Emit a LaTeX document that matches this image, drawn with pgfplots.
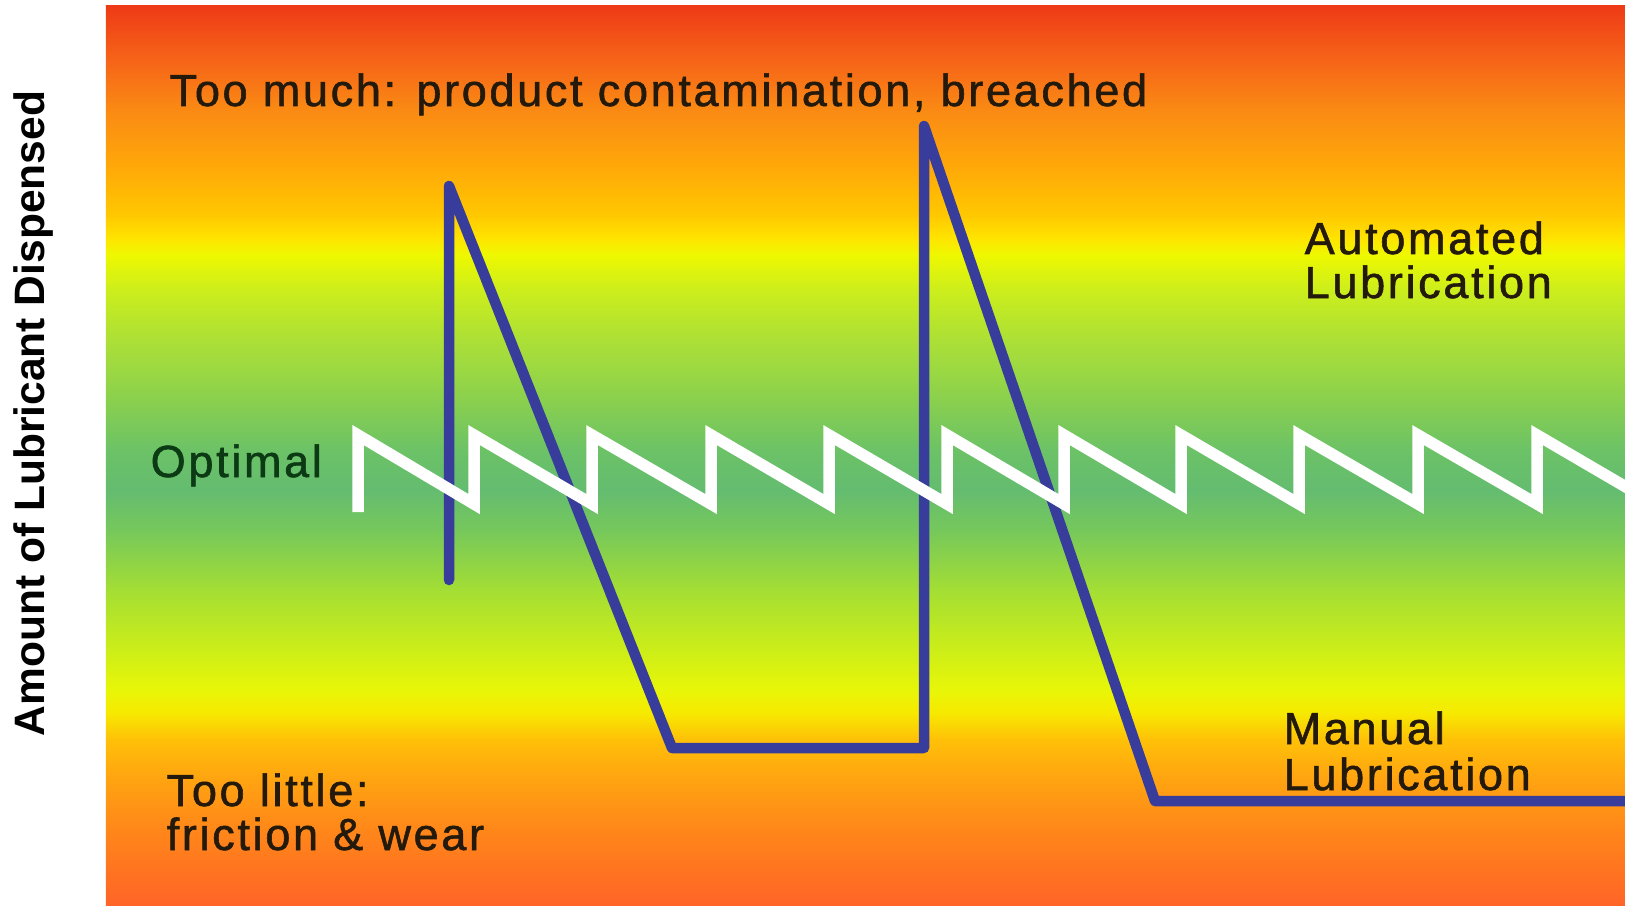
\documentclass[border=0pt]{standalone}
\usepackage{pgfplots}
\pgfplotsset{compat=1.18}
\usepackage{fontspec}
\setmainfont{Liberation Sans}
\newfontfamily\annfont[LetterSpace=6, FakeBold=1.3]{Liberation Sans}

\definecolor{s01}{HTML}{FF6428}
\definecolor{s02}{HTML}{FF7420}
\definecolor{s03}{HTML}{FF8C18}
\definecolor{s04}{HTML}{FFA610}
\definecolor{s05}{HTML}{FFC008}
\definecolor{s06}{HTML}{F6EA00}
\definecolor{s07}{HTML}{E8F608}
\definecolor{s08}{HTML}{CCEE18}
\definecolor{s09}{HTML}{A4DE34}
\definecolor{s10}{HTML}{76C85C}
\definecolor{s11}{HTML}{64BC70}
\definecolor{s12}{HTML}{6CC266}
\definecolor{s13}{HTML}{8AD04E}
\definecolor{s14}{HTML}{ACE036}
\definecolor{s15}{HTML}{CCEE1C}
\definecolor{s16}{HTML}{EEF800}
\definecolor{s17}{HTML}{FFE400}
\definecolor{s18}{HTML}{FFC800}
\definecolor{s19}{HTML}{FFAA08}
\definecolor{s20}{HTML}{FA8A14}
\definecolor{s21}{HTML}{F66418}
\definecolor{s22}{HTML}{EE3A16}
\definecolor{manblue}{HTML}{383C9A}
\definecolor{txtdark}{HTML}{241A0C}
\definecolor{txtgreen}{HTML}{0C3A14}

\pgfdeclareverticalshading{lub}{100bp}{%
color(0bp)=(s01); color(25bp)=(s01); color(26.95bp)=(s02); color(29.73bp)=(s03);
color(32.23bp)=(s04); color(34.18bp)=(s05); color(35.73bp)=(s06); color(36.96bp)=(s07);
color(39.18bp)=(s08); color(42.52bp)=(s09); color(45.86bp)=(s10); color(48.08bp)=(s11);
color(50.31bp)=(s12); color(53.09bp)=(s13); color(56.43bp)=(s14); color(59.21bp)=(s15);
color(61.15bp)=(s16); color(62.10bp)=(s17); color(63.37bp)=(s18); color(65.88bp)=(s19);
color(69.22bp)=(s20); color(72.00bp)=(s21); color(75bp)=(s22); color(100bp)=(s22)}

\begin{document}
\begin{tikzpicture}
\begin{axis}[
  scale only axis,
  width=151.9mm, height=89.9mm,
  xmin=106, xmax=1625, ymin=0, ymax=899,
  axis line style={draw=none},
  ticks=none,
  axis background/.style={shade, shading=lub},
  clip=true,
]
% Manual lubrication (blue)
\addplot[manblue, line width=1.05mm, line join=round, line cap=round] coordinates {
  (449,325) (449,719) (672,157) (924,157) (924,779) (1155,104) (1640,104)
};
% Automated lubrication (white)
\addplot[white, line width=1.15mm, line join=miter, line cap=butt] coordinates {
  (358,393) (358,470) (474,401) (474,470) (592,401) (592,470) (711,401) (711,470)
  (829,401) (829,470) (947,401) (947,470) (1064,401) (1064,470) (1181,401) (1181,470)
  (1299,401) (1299,470) (1418,401) (1418,470) (1537,401) (1537,470) (1655,401)
};
\node[anchor=base west, inner sep=0pt, text=txtdark, font=\annfont\fontsize{12.8}{15}\selectfont] at (axis cs:169,799) {Too much: product contamination, breached};
\node[anchor=base west, inner sep=0pt, text=txtdark, font=\annfont\fontsize{12.8}{15}\selectfont] at (axis cs:1304,651) {Automated};
\node[anchor=base west, inner sep=0pt, text=txtdark, font=\annfont\fontsize{12.8}{15}\selectfont] at (axis cs:1304,607) {Lubrication};
\node[anchor=base west, inner sep=0pt, text=txtgreen, font=\annfont\fontsize{12.8}{15}\selectfont] at (axis cs:150,428) {Optimal};
\node[anchor=base west, inner sep=0pt, text=txtdark, font=\annfont\fontsize{12.8}{15}\selectfont] at (axis cs:1283,161) {Manual};
\node[anchor=base west, inner sep=0pt, text=txtdark, font=\annfont\fontsize{12.8}{15}\selectfont] at (axis cs:1283,115) {Lubrication};
\node[anchor=base west, inner sep=0pt, text=txtdark, font=\annfont\fontsize{12.8}{15}\selectfont] at (axis cs:166,99) {Too little:};
\node[anchor=base west, inner sep=0pt, text=txtdark, font=\annfont\fontsize{12.8}{15}\selectfont] at (axis cs:166,55) {friction \& wear};
\end{axis}
\node[rotate=90, anchor=base, inner sep=0pt, font=\bfseries\fontsize{12.1}{14}\selectfont] at ([xshift=-6.1mm, yshift=49.15mm]current axis.south west) {Amount of Lubricant Dispensed};
\path ([xshift=-10.6mm]current axis.south west) rectangle ([yshift=0.6mm]current axis.north east);
\end{tikzpicture}
\end{document}
